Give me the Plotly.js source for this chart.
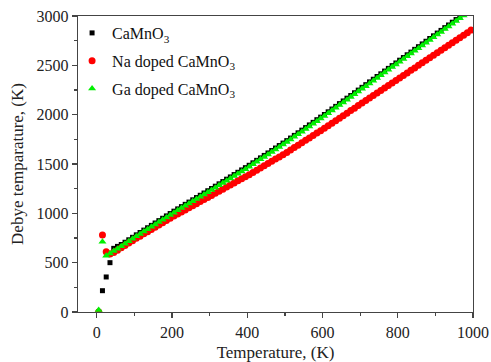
<!DOCTYPE html>
<html>
<head>
<meta charset="utf-8">
<script src="https://cdn.plot.ly/plotly-3.0.1.min.js"></script>
<style>html,body{margin:0;padding:0;background:#fff;}#chart{width:491px;height:362px;}</style>
</head>
<body>
<div id="chart"></div>
<script>
const temperature = [5,15,25,35,45,55,65,75,85,95,105,115,125,135,145,155,165,175,185,195,205,215,225,235,245,255,265,275,285,295,305,315,325,335,345,355,365,375,385,395,405,415,425,435,445,455,465,475,485,495,505,515,525,535,545,555,565,575,585,595,605,615,625,635,645,655,665,675,685,695,705,715,725,735,745,755,765,775,785,795,805,815,825,835,845,855,865,875,885,895,905,915,925,935,945,955,965,975,985,995];

const caMnO3 = [0,216,355,500,645,665,684,707,732,757,782,806,830,854,878,902,926,950,974,998,1022,1045,1068,1091,1114,1137,1160,1183,1206,1229,1252,1275,1299,1322,1346,1369,1393,1416,1440,1463,1487,1512,1537,1562,1587,1612,1637,1662,1687,1712,1737,1763,1790,1816,1843,1869,1896,1922,1949,1975,2002,2029,2057,2084,2112,2139,2167,2194,2222,2249,2277,2304,2332,2359,2387,2414,2442,2469,2497,2524,2552,2579,2607,2634,2662,2689,2717,2744,2772,2799,2827,2854,2882,2909,2937,2964,2992,3019,3047,3074];

const naDoped = [0,780,611,588,603,627,651,675,699,723,747,769,792,814,837,859,882,904,927,949,972,993,1014,1035,1056,1077,1098,1119,1140,1161,1182,1203,1224,1245,1266,1287,1308,1329,1350,1371,1392,1415,1437,1460,1482,1505,1527,1550,1572,1595,1617,1642,1666,1691,1715,1740,1764,1789,1813,1838,1862,1888,1913,1939,1964,1990,2015,2041,2066,2092,2117,2143,2168,2194,2219,2245,2270,2296,2321,2347,2372,2398,2423,2449,2474,2500,2525,2551,2576,2602,2627,2653,2678,2704,2729,2755,2780,2806,2831,2857];

const gaDoped = [20,712,570,592,617,642,667,692,717,742,767,791,815,839,863,887,911,935,959,983,1007,1030,1053,1076,1099,1122,1145,1168,1191,1214,1237,1260,1284,1307,1331,1354,1378,1401,1425,1448,1472,1497,1522,1547,1572,1597,1622,1647,1672,1697,1722,1748,1775,1801,1828,1854,1881,1907,1934,1960,1987,2014,2042,2069,2097,2124,2152,2179,2207,2234,2262,2289,2317,2344,2372,2399,2427,2454,2482,2509,2537,2564,2592,2619,2647,2674,2702,2729,2757,2784,2812,2839,2867,2894,2922,2949,2977,3004,3032,3059];

const seriesNames = ['CaMnO<sub>3</sub>', 'Na doped CaMnO<sub>3</sub>', 'Ga doped CaMnO<sub>3</sub>'];
const xTitle = 'Temperature, (K)';
const yTitle = 'Debye temparature, (K)';

const FONT = 'Liberation Serif, Times New Roman, serif';
const axisColor = '#444444';

const traces = [
  {x: temperature, y: caMnO3, name: seriesNames[0], legendgroup: 'a', mode: 'markers', type: 'scatter',
   marker: {symbol: 'square', size: 5, color: '#000000'}},
  {x: temperature, y: naDoped, name: seriesNames[1], legendgroup: 'b', mode: 'markers', type: 'scatter',
   marker: {symbol: 'circle', size: 7, color: '#ff0000'}},
  {x: temperature, y: gaDoped, name: seriesNames[2], legendgroup: 'c', mode: 'markers', type: 'scatter',
   marker: {symbol: 'triangle-up', size: 7, color: '#00f000'}}
];

const axisCommon = {
  showline: true, mirror: true, linecolor: axisColor, linewidth: 1.3,
  ticks: 'outside', ticklen: 5, tickwidth: 1.2, tickcolor: axisColor,
  showgrid: false, zeroline: false,
  tickfont: {family: FONT, size: 16, color: '#222'}
};

const layout = {
  width: 491, height: 362,
  margin: {l: 78, r: 18, t: 16, b: 50},
  paper_bgcolor: '#ffffff', plot_bgcolor: '#ffffff',
  showlegend: true,
  legend: {x: -0.015, y: 1.0, xanchor: 'left', yanchor: 'top', tracegroupgap: 4,
           bgcolor: 'rgba(0,0,0,0)', font: {family: FONT, size: 16, color: '#111'},
           itemwidth: 30},
  xaxis: Object.assign({}, axisCommon, {
    range: [-50, 1000], tickvals: [0,200,400,600,800,1000],
    minor: {tickvals: [100,300,500,700,900], ticklen: 3, tickcolor: axisColor, ticks: 'outside'},
    title: {text: xTitle, font: {family: FONT, size: 17, color: '#222'}, standoff: 6}
  }),
  yaxis: Object.assign({}, axisCommon, {
    range: [0, 3000], tickvals: [0,500,1000,1500,2000,2500,3000],
    minor: {tickvals: [250,750,1250,1750,2250,2750], ticklen: 3, tickcolor: axisColor, ticks: 'outside'},
    title: {text: yTitle, font: {family: FONT, size: 17, color: '#222'}, standoff: 8}
  })
};

Plotly.newPlot('chart', traces, layout, {displayModeBar: false, staticPlot: true});
</script>
</body>
</html>
